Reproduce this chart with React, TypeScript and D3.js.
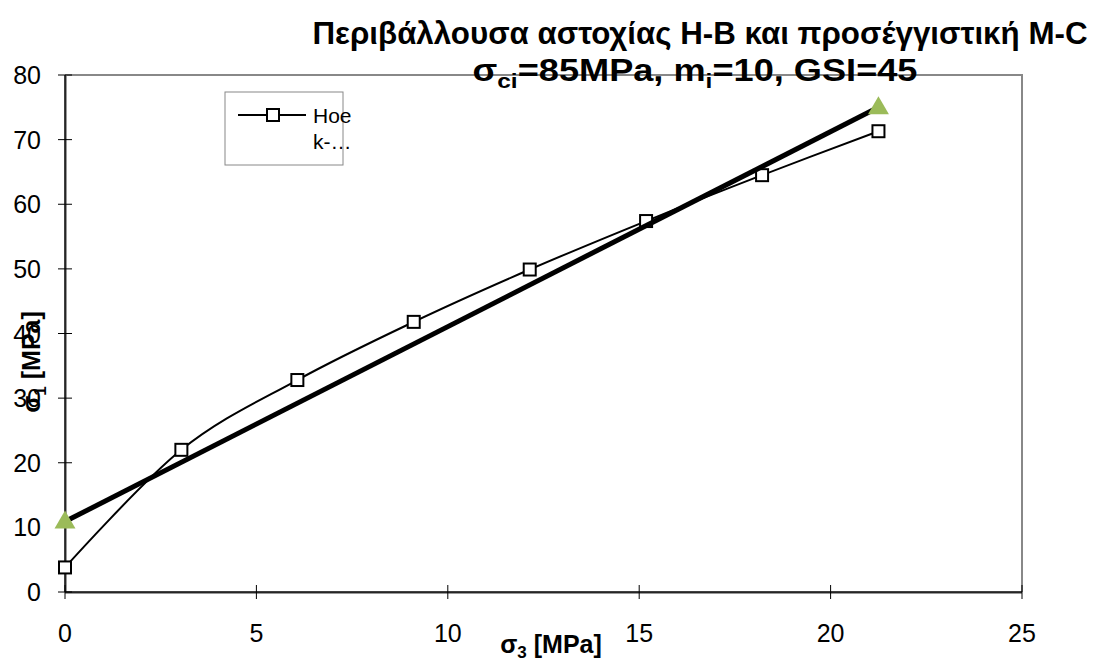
import React from 'react';
import * as d3 from 'd3';

// values
const sigma3 = [0, 3.04, 6.07, 9.11, 12.14, 15.18, 18.21, 21.25];
const sigma1HB = [3.8, 22.0, 32.8, 41.8, 49.9, 57.4, 64.5, 71.3];
const mcSigma3 = [0, 21.25];
const mcSigma1 = [10.9, 75.0];
const xTicks = [0, 5, 10, 15, 20, 25];
const yTicks = [0, 10, 20, 30, 40, 50, 60, 70, 80];

const W = 1099, H = 662;
const left = 65, right = 1022, top = 75, bottom = 592;
const font = '"Liberation Sans", Arial, sans-serif';

export default function App() {
    const x = d3.scaleLinear().domain([0, 25]).range([left, right]);
    const y = d3.scaleLinear().domain([0, 80]).range([bottom, top]);

    const hb = sigma3.map((s, i) => [s, sigma1HB[i]] as [number, number]);
    const mc = mcSigma3.map((s, i) => [s, mcSigma1[i]] as [number, number]);

    const smooth = d3.line<[number, number]>()
        .x(d => x(d[0]))
        .y(d => y(d[1]))
        .curve(d3.curveCardinal.tension(0));
    const straight = d3.line<[number, number]>()
        .x(d => x(d[0]))
        .y(d => y(d[1]));

    const tri = d3.symbol().type(d3.symbolTriangle).size(190)();

    return (
        <div style={{ position: 'fixed', left: 0, top: 0 }}>
            <svg width={W} height={H} style={{ display: 'block', fontFamily: font }}>
                <rect width={W} height={H} fill="#fff" />
                {/* frame top / right */}
                <path d={`M${left},${top}H${right}V${bottom}`} fill="none" stroke="#888" strokeWidth={2} />
                {/* axes */}
                <line x1={left + 1} x2={left + 1} y1={top} y2={bottom + 1} stroke="#999" strokeWidth={2} />
                <line x1={left} x2={right} y1={bottom + 1} y2={bottom + 1} stroke="#999" strokeWidth={2} />
                <line x1={left} x2={left} y1={top} y2={bottom} stroke="#000" strokeWidth={1.5} />
                <line x1={left} x2={right} y1={bottom} y2={bottom} stroke="#000" strokeWidth={1.5} />
                {yTicks.map(t => (
                    <g key={'y' + t}>
                        <line x1={left - 7} x2={left + 7} y1={y(t)} y2={y(t)} stroke="#000" strokeWidth={1} />
                        <text x={41} y={y(t) + 9} textAnchor="end" fontSize={25}>{t}</text>
                    </g>
                ))}
                {xTicks.map(t => (
                    <g key={'x' + t}>
                        <line x1={x(t)} x2={x(t)} y1={bottom - 7} y2={bottom + 7} stroke="#000" strokeWidth={1} />
                        <text x={x(t)} y={642} textAnchor="middle" fontSize={25}>{t}</text>
                    </g>
                ))}

                {/* Hoek-Brown envelope */}
                <path d={smooth(hb) || ''} fill="none" stroke="#000" strokeWidth={2} />
                {hb.map((d, i) => (
                    <rect key={'s' + i} x={x(d[0]) - 6} y={y(d[1]) - 6} width={12} height={12}
                        fill="#fff" stroke="#000" strokeWidth={2} />
                ))}
                {/* Mohr-Coulomb fit */}
                <path d={straight(mc) || ''} fill="none" stroke="#000" strokeWidth={5} />
                {mc.map((d, i) => (
                    <path key={'t' + i} d={tri || ''} transform={`translate(${x(d[0])},${y(d[1]) + 1})`} fill="#9bbb59" />
                ))}

                {/* legend */}
                <rect x={225} y={92} width={118} height={73} fill="#fff" stroke="#888" strokeWidth={1} />
                <line x1={238} x2={306} y1={115} y2={115} stroke="#000" strokeWidth={2} />
                <rect x={267} y={109} width={12} height={12} fill="#fff" stroke="#000" strokeWidth={2} />
                <text x={313} y={123} fontSize={21}>Hoe</text>
                <text x={313} y={149} fontSize={21}>k-…</text>

                {/* titles */}
                <text x={700} y={44} textAnchor="middle" fontSize={31} fontWeight="bold"
                    textLength={775} lengthAdjust="spacingAndGlyphs">
                    Περιβάλλουσα αστοχίας H-B και προσέγγιστική M-C
                </text>
                <text x={695} y={81} textAnchor="middle" fontSize={31} fontWeight="bold"
                    textLength={445} lengthAdjust="spacingAndGlyphs">
                    σ<tspan fontSize={21} dy={7}>ci</tspan><tspan dy={-7}>=85MPa, m</tspan><tspan fontSize={21} dy={7}>i</tspan><tspan dy={-7}>=10, GSI=45</tspan>
                </text>
                <text x={551} y={653} textAnchor="middle" fontSize={25} fontWeight="bold">
                    σ<tspan fontSize={17} dy={5}>3</tspan><tspan dy={-5}> [MPa]</tspan>
                </text>
                <text transform="translate(40,362) rotate(-90)" textAnchor="middle" fontSize={25} fontWeight="bold">
                    σ<tspan fontSize={17} dy={6}>1</tspan><tspan dy={-6}> [MPa]</tspan>
                </text>
            </svg>
        </div>
    );
}
